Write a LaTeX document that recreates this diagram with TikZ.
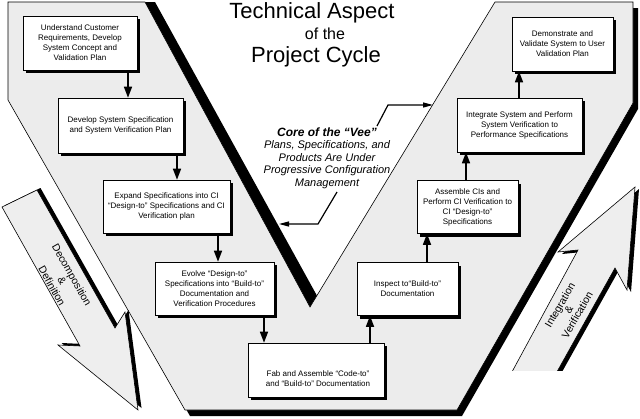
\documentclass[tikz,border=0pt]{standalone}
\usepackage{fontspec}
\setmainfont{Liberation Sans}
\usetikzlibrary{arrows.meta,shadows}
\definecolor{vgray}{RGB}{236,236,236}
\definecolor{agray}{RGB}{238,238,238}
\tikzset{
  box/.style={draw=black, line width=0.6pt, fill=white, inner sep=0pt, align=center,
    font=\fontsize{8}{10}\selectfont,
    drop shadow={shadow xshift=3pt, shadow yshift=-3pt, fill=black, opacity=1}},
  boxtext/.style={inner sep=0pt, align=center, font=\fontsize{8}{10}\selectfont},
  flow/.style={line width=1.5pt, -{Triangle[length=11pt,width=8pt]}},
  corearrow/.style={line width=1.2pt, -{Triangle[length=10pt,width=5pt]}},
  thinline/.style={draw=black, line width=0.6pt},
  arrowtext/.style={align=center, inner sep=0pt},
}
\begin{document}
\begin{tikzpicture}[x=1pt,y=-1pt]
\useasboundingbox (0,0) rectangle (640,418);

% V shape: shadow then gray body
\fill[black] (13,8) -- (145,2) -- (155,2) -- (321,303) -- (500,8) -- (638,8) -- (638,109)
  -- (462,416) -- (190,416) -- (13,106) -- cycle;
\path[thinline, fill=vgray] (8,2) -- (145,2) -- (310,307) -- (495,2) -- (633,2) -- (633,103)
  -- (457,410) -- (185,410) -- (8,100) -- cycle;

% Decomposition arrow
\fill[black, shift={(3.5,-2)}] (2,207) -- (37,190) -- (115,328) -- (125,312) -- (138,410)
  -- (58,345) -- (80,346) -- cycle;
\path[thinline, fill=agray] (2,207) -- (37,190) -- (115,328) -- (125,312) -- (138,410)
  -- (58,345) -- (80,346) -- cycle;

% Integration arrow (cut at the bottom)
\begin{scope}
  \clip (470,150) rectangle (640,370);
  \fill[black, shift={(4,2)}] (635,187) -- (627,290) -- (615,268) -- (552.4,380) -- (507.6,380)
    -- (578,250) -- (558,252) -- cycle;
  \path[thinline, fill=agray] (635,187) -- (627,290) -- (615,268) -- (552.4,380) -- (507.6,380)
    -- (578,250) -- (558,252) -- cycle;
\end{scope}

% Title
\node[anchor=base, font=\fontsize{22}{26}\selectfont] (t1) at (312,18) {Technical Aspect};
\node[anchor=base, font=\fontsize{16}{19}\selectfont] (t2) at (325,39) {of the};
\node[anchor=base, font=\fontsize{22}{26}\selectfont] (t3) at (316,62.5) {Project Cycle};

% Boxes
\node[box, minimum width=114pt, minimum height=54pt] (b1) at (80,43)
  {Understand Customer\\Requirements, Develop\\System Concept and\\Validation Plan};
\node[box, minimum width=125pt, minimum height=55pt] (b2) at (120.5,125.5)
  {Develop System Specification\\and System Verification Plan};
\node[box, minimum width=127pt, minimum height=53pt] (b3) at (166.5,206.5)
  {Expand Specifications into CI\\“Design-to” Specifications and CI\\Verification plan};
\node[box, minimum width=119pt, minimum height=53pt] (b4) at (214.5,288.5)
  {Evolve “Design-to”\\Specifications into “Build-to”\\Documentation and\\Verification Procedures};
\node[box, minimum width=136pt, minimum height=54pt] (b5) at (316,370) {};
\node[boxtext] (b5t) at (318,379) {Fab and Assemble “Code-to”\\and “Build-to” Documentation};
\node[box, minimum width=101pt, minimum height=53pt] (b6) at (407.5,289)
  {Inspect to“Build-to”\\Documentation};
\node[box, minimum width=101pt, minimum height=53pt] (b7) at (467.5,207)
  {Assemble CIs and\\Perform CI Verification to\\CI “Design-to”\\Specifications};
\node[box, minimum width=125pt, minimum height=54pt] (b8) at (519.5,125)
  {Integrate System and Perform\\System Verification to\\Performance Specifications};
\node[box, minimum width=101pt, minimum height=54pt] (b9) at (562.5,44)
  {Demonstrate and\\Validate System to User\\Validation Plan};

% Flow arrows
\draw[flow] ([xshift=48pt]b1.south) -- ([xshift=48pt]b1.south |- b2.north);
\draw[flow] ([xshift=56.5pt]b2.south) -- ([xshift=56.5pt]b2.south |- b3.north);
\draw[flow] ([xshift=51.5pt]b3.south) -- ([xshift=51.5pt]b3.south |- b4.north);
\draw[flow] ([xshift=49.5pt]b4.south) -- ([xshift=49.5pt]b4.south |- b5.north);
\draw[flow] ([xshift=54pt]b5.north) -- ([xshift=54pt]b5.north |- b6.south);
\draw[flow] ([xshift=19.5pt]b6.north) -- ([xshift=19.5pt]b6.north |- b7.south);
\draw[flow] ([xshift=-1.5pt]b7.north) -- ([xshift=-1.5pt]b7.north |- b8.south);
\draw[flow] ([xshift=-0.5pt]b8.north) -- ([xshift=-0.5pt]b8.north |- b9.south);

% Core of the Vee
\node[align=center, inner sep=0pt, font=\fontsize{11}{12.5}\selectfont\itshape] (core) at (327,158)
  {{\fontsize{12}{12.5}\selectfont\bfseries Core of the “Vee”}\\Plans, Specifications, and\\Products Are Under\\Progressive Configuration\\Management};
\coordinate (cu1) at (377,126);
\coordinate (cu2) at (388,105);
\coordinate (cut) at (433,105);
\coordinate (cl1) at (337,192);
\coordinate (cl2) at (318,224);
\coordinate (clt) at (279,224);
\draw[corearrow] (cu1) -- (cu2) -- (cut);
\draw[corearrow] (cl1) -- (cl2) -- (clt);

% Arrow labels
\node[arrowtext, rotate=-60.5, font=\fontsize{10.5}{11.4}\selectfont] (dec) at (62,280.5)
  {Decomposition\\\&\\Definition};
\node[arrowtext, rotate=60, font=\fontsize{10.5}{10}\selectfont] (int) at (568.5,310)
  {Integration\\\&\\Verification};
\end{tikzpicture}
\end{document}
